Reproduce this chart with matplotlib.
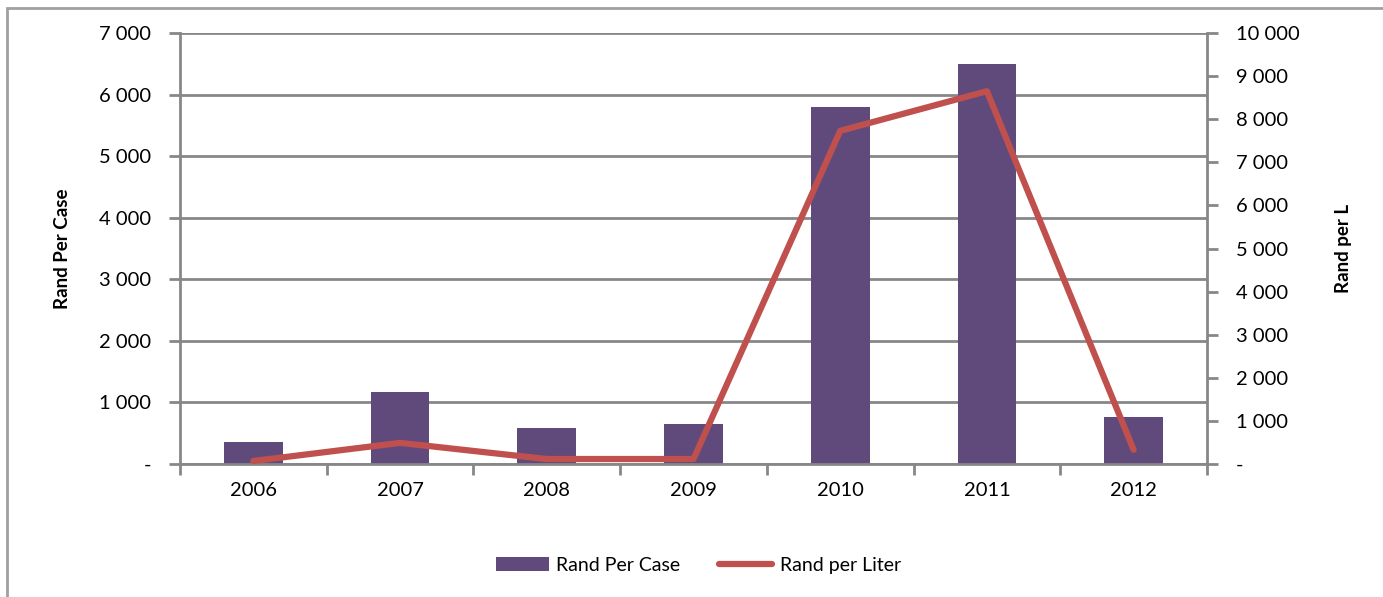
import numpy as np
import matplotlib.pyplot as plt
from matplotlib.ticker import FuncFormatter, FixedLocator
from matplotlib.patches import Rectangle

years = ["2006", "2007", "2008", "2009", "2010", "2011", "2012"]
rand_per_case = [360, 1170, 590, 650, 5800, 6500, 770]
rand_per_liter = [70, 490, 115, 115, 7730, 8650, 330]

plt.rcParams["font.family"] = ["Lato", "DejaVu Sans"]
grey = "#878787"
purple = "#604a7b"
red = "#c0504d"


def fmt(v, pos):
    if v == 0:
        return "-"
    return "{:,.0f}".format(v).replace(",", " ")


fig = plt.figure(figsize=(13.83, 5.97), dpi=100)
fig.patches.append(Rectangle((0.005, -0.01), 1.02, 0.997, transform=fig.transFigure,
                             fill=False, edgecolor="#a0a0a0", linewidth=2))
ax = fig.add_axes([0.1302, 0.2228, 0.7425, 0.7219])
x = np.arange(len(years))
ax.bar(x, rand_per_case, width=0.4, color=purple, zorder=2, label="Rand Per Case")
ax.set_xlim(-0.5, len(years) - 0.5)
ax.set_ylim(0, 7000)
ax.set_yticks(np.arange(0, 7001, 1000))
ax.yaxis.set_major_formatter(FuncFormatter(fmt))
ax.grid(axis="y", color=grey, linewidth=2, zorder=0)
ax.set_xticks(x)
ax.set_xticklabels(years)
ax.xaxis.set_minor_locator(FixedLocator(np.arange(-0.5, len(years), 1)))
ax.tick_params(axis="x", which="major", length=0, pad=13, labelsize=14.5)
ax.tick_params(axis="x", which="minor", length=8, width=2, color=grey, direction="out")
ax.tick_params(axis="y", length=8, width=2, color=grey, pad=13, labelsize=14.5)
for s in ["top", "right"]:
    ax.spines[s].set_visible(False)
for s in ["left", "bottom"]:
    ax.spines[s].set_color(grey)
    ax.spines[s].set_linewidth(2)
ax.set_ylabel("Rand Per Case", fontsize=13.5, fontweight="bold", labelpad=20)

ax2 = ax.twinx()
ax2.plot(x, rand_per_liter, color=red, linewidth=4.5, solid_capstyle="round",
         zorder=3, label="Rand per Liter")
ax2.set_ylim(0, 10000)
ax2.set_yticks(np.arange(0, 10001, 1000))
ax2.yaxis.set_major_formatter(FuncFormatter(fmt))
ax2.tick_params(axis="y", length=8, width=2, color=grey, pad=13, labelsize=14.5)
for s in ["top", "left", "bottom"]:
    ax2.spines[s].set_visible(False)
ax2.spines["right"].set_color(grey)
ax2.spines["right"].set_linewidth(2)
ax2.set_ylabel("Rand per L", fontsize=13.5, fontweight="bold", labelpad=25)

h1, l1 = ax.get_legend_handles_labels()
h2, l2 = ax2.get_legend_handles_labels()
fig.legend(h1 + h2, l1 + l2, loc="center", bbox_to_anchor=(0.505, 0.053), ncol=2,
           frameon=False, fontsize=14, handlelength=2.7, handletextpad=0.4,
           columnspacing=2.0)

fig.savefig("out.png", dpi=100)
